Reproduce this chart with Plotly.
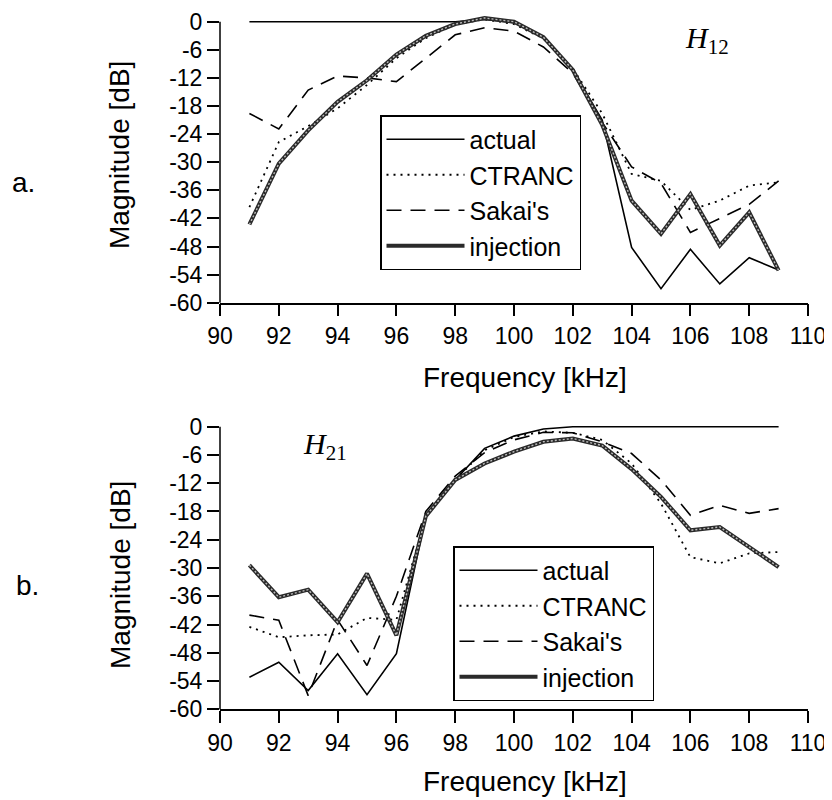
import plotly.graph_objects as go

# ---------------- data ----------------
freq = [91, 92, 93, 94, 95, 96, 97, 98, 99, 100, 101, 102, 103, 104, 105, 106, 107, 108, 109]

# (a) H12
actual_h12 = [0, 0, 0, 0, 0, 0, 0, 0, 0.5, -0.2, -3.3, -10.3, -21, -48.2, -57, -48.6, -56, -50.4, -53]
ctranc_h12 = [-39.6, -25.7, -22.3, -18.5, -13.5, -7.8, -3.5, -0.6, 0.5, -0.5, -3.6, -10, -19.6, -32.5, -34, -40.2, -38.2, -35, -34.3]
sakai_h12 = [-19.6, -22.9, -14.6, -11.6, -12, -12.8, -7.8, -2.8, -1.3, -2, -5.4, -11, -21.5, -31, -34.5, -45, -42, -39, -34]
injection_h12 = [-43.3, -30.3, -23.2, -17.1, -12.5, -7, -3, -0.5, 0.8, 0, -3.3, -10.3, -22, -38.2, -45.3, -36.8, -47.8, -40.7, -53.1]

# (b) H21
actual_h21 = [-53.2, -50, -56, -48.2, -56.9, -48.2, -19, -11.3, -4.6, -2, -0.5, 0, 0, 0, 0, 0, 0, 0, 0]
ctranc_h21 = [-42.5, -44.7, -44.3, -44.1, -40.6, -41, -19, -11.3, -5, -2.2, -1, -1.3, -2.8, -7.8, -16.3, -27.7, -29, -26.9, -26.6]
sakai_h21 = [-40, -41.1, -57.1, -41, -50.7, -36, -18, -10.5, -5.5, -2.8, -1.2, -1.3, -3.2, -5.7, -11.3, -18.8, -16.7, -18.4, -17.4]
injection_h21 = [-29.4, -36.2, -34.6, -41.5, -31.2, -44.3, -19, -11.3, -7.8, -5.3, -3.2, -2.5, -4, -9, -14.9, -22, -21.3, -25.5, -29.8]

series_names = ["actual", "CTRANC", "Sakai's", "injection"]
x_ticks = [90, 92, 94, 96, 98, 100, 102, 104, 106, 108, 110]
y_ticks = [0, -6, -12, -18, -24, -30, -36, -42, -48, -54, -60]
y_tick_labels = ["0", "-6", "-12", "-18", "-24", "-30", "-36", "-42", "-48", "-54", "-60"]
x_title = "Frequency [kHz]"
y_title = "Magnitude [dB]"

# ---------------- layout geometry ----------------
# the page body adds an 8px margin, so the figure is drawn 8px in from the corner
OFF = 8
W, H = 832 - OFF, 800 - OFF
X_LEFT, X_RIGHT = 220, 808
TOP_Y0, TOP_YM60 = 21.7, 302.7
BOT_Y0, BOT_YM60 = 426.7, 709.3
Y_MIN, Y_MAX = -60, 2.0

def xp(px):
    return (px - OFF) / W

def yp(py):
    return 1 - (py - OFF) / H

def ydomain(p0, pm60):
    per = (pm60 - p0) / 60.0
    top_px = p0 - Y_MAX * per
    return [yp(pm60), yp(top_px)]

dom_top = ydomain(TOP_Y0, TOP_YM60)
dom_bot = ydomain(BOT_Y0, BOT_YM60)
xdom = [xp(X_LEFT), xp(X_RIGHT)]

FONT = "Liberation Sans, Arial, sans-serif"
SERIF = "Liberation Serif, Times New Roman, serif"

styles = {
    "actual": dict(color="black", width=1.6),
    "CTRANC": dict(color="black", width=1.8, dash="2px,5px"),
    "Sakai's": dict(color="black", width=1.6, dash="15px,9px"),
    "injection": dict(color="#2a2a2a", width=4),
}

fig = go.Figure()

def add_panel(xa, ya, leg, data):
    for name, vals in zip(series_names, data):
        fig.add_trace(go.Scatter(
            x=freq, y=vals, mode="lines", name=name, line=styles[name],
            xaxis=xa, yaxis=ya, legend=leg, legendgroup=leg + name,
        ))
        if name == "injection":
            fig.add_trace(go.Scatter(
                x=freq, y=vals, mode="lines", showlegend=False,
                line=dict(color="#bdbdbd", width=1.4, dash="2px,2px"),
                xaxis=xa, yaxis=ya, legend=leg, legendgroup=leg + name,
                hoverinfo="skip",
            ))

add_panel("x", "y", "legend", [actual_h12, ctranc_h12, sakai_h12, injection_h12])
add_panel("x2", "y2", "legend2", [actual_h21, ctranc_h21, sakai_h21, injection_h21])

axis_common = dict(
    showgrid=False, zeroline=False, ticks="outside", ticklen=12, tickwidth=1.5,
    tickcolor="black", tickfont=dict(family=FONT, size=23, color="black"),
    automargin=False,
)

xaxis_cfg = dict(axis_common, range=[90, 110], tickvals=x_ticks, domain=xdom,
                 showline=True, linewidth=1.5, linecolor="black")
yaxis_cfg = dict(axis_common, range=[Y_MIN, Y_MAX], tickvals=y_ticks, ticktext=y_tick_labels,
                 showline=False)

legend_common = dict(
    xanchor="left", yanchor="top", bordercolor="black", borderwidth=1.5,
    bgcolor="white", font=dict(family=FONT, size=25, color="black"),
    itemwidth=78, tracegroupgap=0,
)

ann_font = dict(family=FONT, size=28, color="black")

def ann(text, x, y, font=ann_font, angle=0):
    return dict(text=text, x=xp(x), y=yp(y), xref="paper", yref="paper",
                xanchor="center", yanchor="middle", showarrow=False,
                textangle=angle, font=font)

fig.update_layout(
    width=W, height=H,
    margin=dict(l=0, r=0, t=0, b=0, autoexpand=False),
    paper_bgcolor="white", plot_bgcolor="white",
    font=dict(family=FONT, color="black"),
    xaxis=dict(xaxis_cfg, anchor="y"),
    yaxis=dict(yaxis_cfg, domain=dom_top, anchor="x"),
    xaxis2=dict(xaxis_cfg, anchor="y2"),
    yaxis2=dict(yaxis_cfg, domain=dom_bot, anchor="x2"),
    legend=dict(legend_common, x=xp(380), y=yp(115)),
    legend2=dict(legend_common, x=xp(453), y=yp(546)),
    shapes=[
        dict(type="line", xref="paper", yref="paper", x0=xp(X_LEFT), x1=xp(X_LEFT),
             y0=yp(TOP_YM60), y1=yp(TOP_Y0), line=dict(color="black", width=1.5)),
        dict(type="line", xref="paper", yref="paper", x0=xp(X_LEFT), x1=xp(X_LEFT),
             y0=yp(BOT_YM60), y1=yp(BOT_Y0), line=dict(color="black", width=1.5)),
    ],
    annotations=[
        ann(y_title, 120, 155, angle=-90),
        ann(y_title, 120, 575, angle=-90),
        ann(x_title, 525, 378),
        ann(x_title, 525, 781),
        ann("a.", 24, 182),
        ann("b.", 27, 585),
        ann("<i>H</i><sub>12</sub>", 707, 40, font=dict(family=SERIF, size=30, color="black")),
        ann("<i>H</i><sub>21</sub>", 325, 446, font=dict(family=SERIF, size=30, color="black")),
    ],
)

fig.write_html("out.html")
